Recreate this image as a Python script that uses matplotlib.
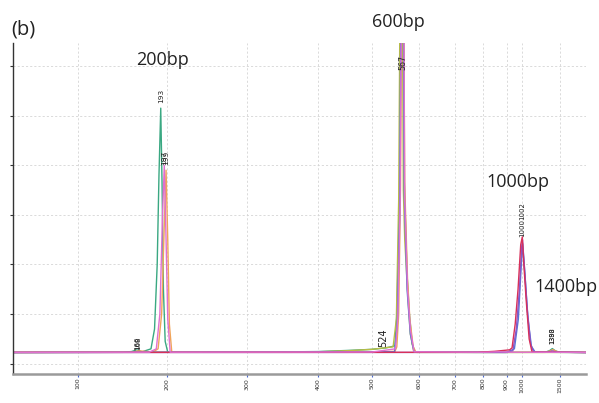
import numpy as np
import matplotlib
matplotlib.use("Agg")
import matplotlib.pyplot as plt

# size axis of the electropherogram (bp) and where each size sits on the trace
size_ticks = [100, 200, 300, 400, 500, 600, 700, 800, 900, 1000, 1500]
size_anchor_bp = [0, 100, 200, 300, 400, 500, 600, 700, 800, 900, 1000, 1500, 3000]
size_anchor_pos = [-10.4, 78.3, 167.0, 247.3, 318.0, 372.2, 418.7, 455.0, 482.8, 506.5, 522.3, 560.3, 674.3]

# traces (size in bp, signal in RFU)
green_bp = [26, 150, 160, 166, 172, 182, 186, 189, 191, 193, 194.5, 196, 198, 201, 300, 400, 460, 500,
            530, 549, 553, 560, 563, 566, 569, 575, 580, 586, 592, 800, 1300, 1360, 1395, 1430, 1480, 1838]
green_y = [227, 230, 245, 280, 240, 300, 700, 2000, 3800, 5150, 3600, 1500, 450, 230, 232, 245, 270, 290,
           320, 360, 1000, 3700, 9000, 9000, 3700, 1800, 1000, 400, 235, 228, 230, 265, 305, 265, 232, 227]

orange_bp = [26, 160, 168, 184, 190, 194, 197, 199, 201, 203, 206, 500, 549, 553, 557, 561, 564, 567,
             570, 576, 581, 588, 594, 1300, 1370, 1400, 1440, 1490, 1838]
orange_y = [227, 230, 260, 235, 300, 1000, 2800, 3900, 2500, 800, 235, 232, 250, 340, 1000, 3600, 9000, 9000,
            3600, 1700, 900, 350, 232, 229, 260, 285, 255, 232, 227]

pink_bp = [26, 180, 188, 192, 195, 197, 199, 201, 204, 500, 550, 555, 560, 564, 567, 570, 576, 582,
           590, 800, 870, 940, 1838]
pink_y = [229, 232, 300, 1000, 3000, 4000, 2500, 900, 232, 236, 300, 900, 3200, 9000, 9000, 3300, 1500, 700,
          240, 231, 240, 232, 229]

olive_bp = [26, 400, 460, 500, 524, 545, 552, 557, 561, 564, 567, 570, 577, 582, 589, 596, 1838]
olive_y = [227, 240, 265, 290, 318, 340, 900, 3300, 9000, 9000, 3500, 2500, 1300, 600, 260, 228, 227]

blue_bp = [26, 548, 554, 559, 563, 566, 569, 575, 582, 590, 900, 950, 975, 992, 1004, 1035, 1075, 1120,
           1170, 1838]
blue_y = [226, 240, 800, 3000, 9000, 9000, 3400, 1500, 600, 236, 228, 300, 900, 1900, 2420, 1800, 900, 350,
          232, 226]

purple_bp = [26, 900, 940, 962, 982, 996, 1002, 1030, 1065, 1110, 1150, 1330, 1395, 1460, 1838]
purple_y = [226, 228, 260, 700, 1500, 2350, 2500, 1900, 1100, 400, 233, 230, 258, 232, 226]

crimson_bp = [26, 780, 850, 920, 935, 955, 973, 990, 1000, 1020, 1050, 1090, 1128, 1838]
crimson_y = [228, 230, 250, 280, 320, 800, 1500, 2400, 2557, 2000, 1300, 500, 235, 228]

# peak calls printed above the peaks
peak_labels = ['166', '168', '193', '197', '199', '524', '567', '1000', '1002', '1388', '1390']
peak_label_bp = [166, 168, 193, 197, 199, 524, 567, 1000, 1002, 1388, 1390]
peak_label_y = [282, 282, 5250, 4000, 4000, 330, 5920, 2560, 2900, 400, 400]
peak_label_size = [5, 5, 5.3, 5.3, 5.3, 7, 5.7, 5, 5, 4.8, 4.8]

# fragment names written on the figure
fragment_names = ['200bp', '600bp', '1000bp', '1400bp']

traces = [
    (green_bp, green_y, '#3aa882'),
    (olive_bp, olive_y, '#b9bd45'),
    (orange_bp, orange_y, '#f0a45a'),
    (blue_bp, blue_y, '#5478d6'),
    (purple_bp, purple_y, '#8a55c8'),
    (crimson_bp, crimson_y, '#d8305a'),
    (pink_bp, pink_y, '#e070d0'),
]


def size_to_pos(x):
    return np.interp(x, size_anchor_bp, size_anchor_pos)


def pos_to_size(p):
    return np.interp(p, size_anchor_pos, size_anchor_bp)


W, H = 599, 403
fig = plt.figure(figsize=(W / 100, H / 100), dpi=100)
ax = fig.add_axes([12.6 / W, 1 - 373.7 / H, (586 - 12.6) / W, (373.7 - 43) / H])

ax.set_xscale('function', functions=(size_to_pos, pos_to_size))
ax.set_xlim(26, 1838)
ax.set_ylim(-201, 6463)

for xs, ys, col in traces:
    ax.plot(xs, ys, color=col, lw=1.0, solid_joinstyle='round')

ax.set_xticks(size_ticks)
ax.set_xticklabels([str(t) for t in size_ticks], rotation=90, fontsize=4.5, color='#333333')
ax.set_yticks(np.arange(0, 6001, 1000))
ax.set_yticklabels([])
ax.tick_params(axis='x', length=2, width=0.8, color='#4a6ad0', pad=1)
ax.tick_params(axis='y', length=2.5, width=0.8, color='#333333', direction='out')
ax.grid(True, color='#d4d4d4', linestyle=(0, (2.5, 2.5)), linewidth=0.6)

for s in ['top', 'right']:
    ax.spines[s].set_visible(False)
ax.spines['left'].set_color('#333333')
ax.spines['left'].set_linewidth(1.0)
ax.spines['bottom'].set_color('#9a9a9a')
ax.spines['bottom'].set_linewidth(1.8)

ax.set_xlabel('サイズ (bp)', fontsize=5, family=['Noto Sans CJK JP', 'DejaVu Sans'],
              color='#333333', labelpad=7)

for lab, xb, yb, fs in zip(peak_labels, peak_label_bp, peak_label_y, peak_label_size):
    ax.text(xb, yb, lab, rotation=90, ha='center', va='bottom', fontsize=fs, color='#222222')

big = dict(fontsize=13, color='#222222', family=['Open Sans', 'DejaVu Sans'], ha='center', va='center')
fig.text(11 / W, 1 - 29 / H, '(b)', fontsize=14.5, color='#222222', family=['Open Sans', 'DejaVu Sans'],
         ha='left', va='center')
name_pos = [(162.5, 60), (398, 22), (518, 182), (566, 287)]
for name, (px, py) in zip(fragment_names, name_pos):
    fig.text(px / W, 1 - py / H, name, **big)

fig.savefig('out.png', dpi=100, facecolor='white')
